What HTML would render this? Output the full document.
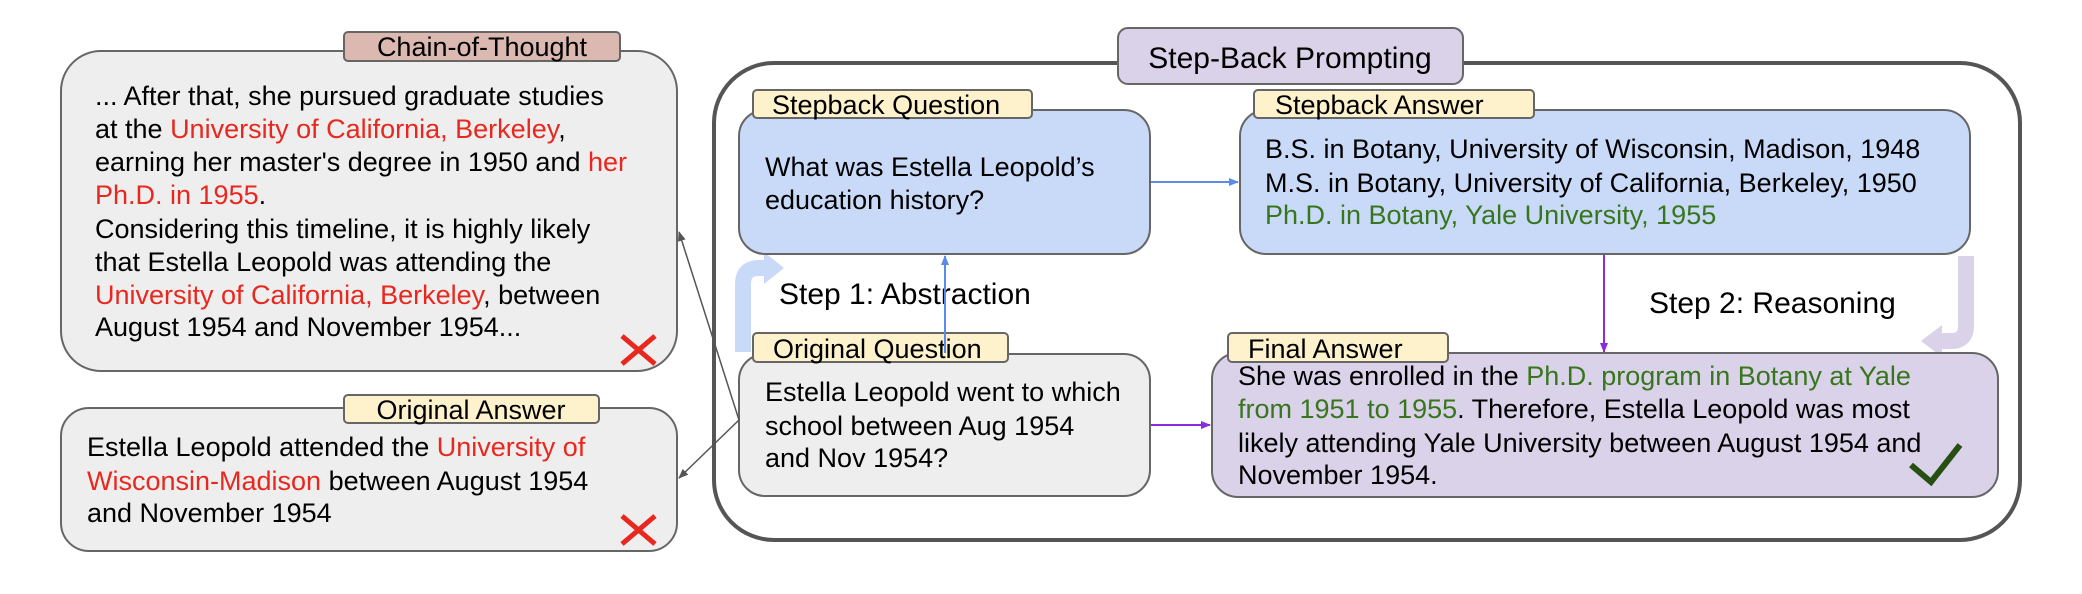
<!DOCTYPE html>
<html><head><meta charset="utf-8"><style>
html,body{margin:0;padding:0;background:#fff}
svg{display:block}
text{font-family:"Liberation Sans",Arial,sans-serif;font-size:27px;fill:#000}
.r{fill:#e8281e}.g{fill:#38761d}
</style></head><body>
<svg width="2082" height="594" viewBox="0 0 2082 594" xmlns="http://www.w3.org/2000/svg">
<defs>
<marker id="ab" markerWidth="10" markerHeight="10" refX="9" refY="5" orient="auto" markerUnits="userSpaceOnUse"><path d="M0,1 L10,5 L0,9 z" fill="#5b8ae8"/></marker>
<marker id="ap" markerWidth="10" markerHeight="10" refX="9" refY="5" orient="auto" markerUnits="userSpaceOnUse"><path d="M0,1 L10,5 L0,9 z" fill="#8a2be2"/></marker>
<marker id="ag" markerWidth="10" markerHeight="10" refX="9" refY="5" orient="auto" markerUnits="userSpaceOnUse"><path d="M0,1 L10,5 L0,9 z" fill="#555"/></marker>
</defs>

<!-- CoT box -->
<rect x="61" y="51" width="616" height="320" rx="40" fill="#eeeeee" stroke="#666" stroke-width="2"/>
<rect x="344" y="32" width="276" height="29" rx="4" fill="#dcb9b0" stroke="#666" stroke-width="2"/>
<text x="482" y="56" text-anchor="middle">Chain-of-Thought</text>
<text x="95" y="105">... After that, she pursued graduate studies</text>
<text x="95" y="138">at the <tspan class="r">University of California, Berkeley</tspan>,</text>
<text x="95" y="171">earning her master's degree in 1950 and <tspan class="r">her</tspan></text>
<text x="95" y="204"><tspan class="r">Ph.D. in 1955</tspan>.</text>
<text x="95" y="238">Considering this timeline, it is highly likely</text>
<text x="95" y="271">that Estella Leopold was attending the</text>
<text x="95" y="304"><tspan class="r">University of California, Berkeley</tspan>, between</text>
<text x="95" y="336">August 1954 and November 1954...</text>
<path d="M622,336 L655,364 M655,336 L622,364" stroke="#e8281e" stroke-width="5"/>

<!-- Original Answer -->
<rect x="61" y="408" width="616" height="143" rx="28" fill="#eeeeee" stroke="#666" stroke-width="2"/>
<rect x="344" y="395" width="255" height="28" rx="4" fill="#fdf2cc" stroke="#666" stroke-width="2"/>
<text x="471" y="419" text-anchor="middle">Original Answer</text>
<text x="87" y="456">Estella Leopold attended the <tspan class="r">University of</tspan></text>
<text x="87" y="490"><tspan class="r">Wisconsin-Madison</tspan> between August 1954</text>
<text x="87" y="522">and November 1954</text>
<path d="M622,516 L655,544 M655,516 L622,544" stroke="#e8281e" stroke-width="5"/>

<!-- outer step-back -->
<rect x="714" y="63" width="1306" height="477" rx="60" fill="none" stroke="#555" stroke-width="4"/>
<rect x="1118" y="28" width="345" height="56" rx="10" fill="#d9d2e9" stroke="#666" stroke-width="2"/>
<text x="1290" y="68" text-anchor="middle" style="font-size:30px">Step-Back Prompting</text>

<!-- light arrows -->
<path d="M743,352 L743,284 Q743,268 759,268 L768,268" stroke="#c9daf8" stroke-width="16" fill="none"/>
<path d="M764,252 L784,268 L764,284 z" fill="#c9daf8"/>
<path d="M1966,256 L1966,326 Q1966,341 1951,341 L1938,341" stroke="#d9d2e9" stroke-width="16" fill="none"/>
<path d="M1942,325 L1921,341 L1942,357 z" fill="#d9d2e9"/>

<!-- Stepback Question -->
<rect x="739" y="110" width="411" height="144" rx="26" fill="#c9daf8" stroke="#666" stroke-width="2"/>
<rect x="753" y="90" width="279" height="28" rx="4" fill="#fdf2cc" stroke="#666" stroke-width="2"/>
<text x="772" y="114">Stepback Question</text>
<text x="765" y="176">What was Estella Leopold’s</text>
<text x="765" y="209">education history?</text>

<!-- Stepback Answer -->
<rect x="1240" y="110" width="730" height="144" rx="26" fill="#c9daf8" stroke="#666" stroke-width="2"/>
<rect x="1254" y="90" width="280" height="28" rx="4" fill="#fdf2cc" stroke="#666" stroke-width="2"/>
<text x="1275" y="114">Stepback Answer</text>
<text x="1265" y="158">B.S. in Botany, University of Wisconsin, Madison, 1948</text>
<text x="1265" y="192">M.S. in Botany, University of California, Berkeley, 1950</text>
<text x="1265" y="224" class="g">Ph.D. in Botany, Yale University, 1955</text>

<!-- Original Question -->
<rect x="739" y="354" width="411" height="142" rx="26" fill="#eeeeee" stroke="#666" stroke-width="2"/>
<rect x="753" y="333" width="255" height="29" rx="4" fill="#fdf2cc" stroke="#666" stroke-width="2"/>
<text x="773" y="358">Original Question</text>
<text x="765" y="401">Estella Leopold went to which</text>
<text x="765" y="435">school between Aug 1954</text>
<text x="765" y="467">and Nov 1954?</text>

<!-- Final Answer -->
<rect x="1212" y="353" width="786" height="144" rx="26" fill="#d9d2e9" stroke="#666" stroke-width="2"/>
<rect x="1228" y="333" width="220" height="29" rx="4" fill="#fdf2cc" stroke="#666" stroke-width="2"/>
<text x="1248" y="358">Final Answer</text>
<text x="1238" y="385">She was enrolled in the <tspan class="g">Ph.D. program in Botany at Yale</tspan></text>
<text x="1238" y="418"><tspan class="g">from 1951 to 1955</tspan>. Therefore, Estella Leopold was most</text>
<text x="1238" y="452">likely attending Yale University between August 1954 and</text>
<text x="1238" y="484">November 1954.</text>
<path d="M1911,465 L1931,482 L1960,445" stroke="#274e13" stroke-width="6" fill="none"/>

<!-- step labels -->
<text x="779" y="304" style="font-size:30px">Step 1: Abstraction</text>
<text x="1649" y="313" style="font-size:30px">Step 2: Reasoning</text>

<!-- connectors -->
<line x1="945" y1="353" x2="945" y2="256" stroke="#5b8ae8" stroke-width="2" marker-end="url(#ab)"/>
<line x1="1151" y1="182" x2="1238" y2="182" stroke="#5b8ae8" stroke-width="2" marker-end="url(#ab)"/>
<line x1="1604" y1="255" x2="1604" y2="352" stroke="#8a2be2" stroke-width="2" marker-end="url(#ap)"/>
<line x1="1151" y1="425" x2="1210" y2="425" stroke="#8a2be2" stroke-width="2" marker-end="url(#ap)"/>
<line x1="739" y1="420" x2="679" y2="232" stroke="#555" stroke-width="1.5" marker-end="url(#ag)"/>
<line x1="739" y1="420" x2="679" y2="478" stroke="#555" stroke-width="1.5" marker-end="url(#ag)"/>
</svg>
</body></html>
